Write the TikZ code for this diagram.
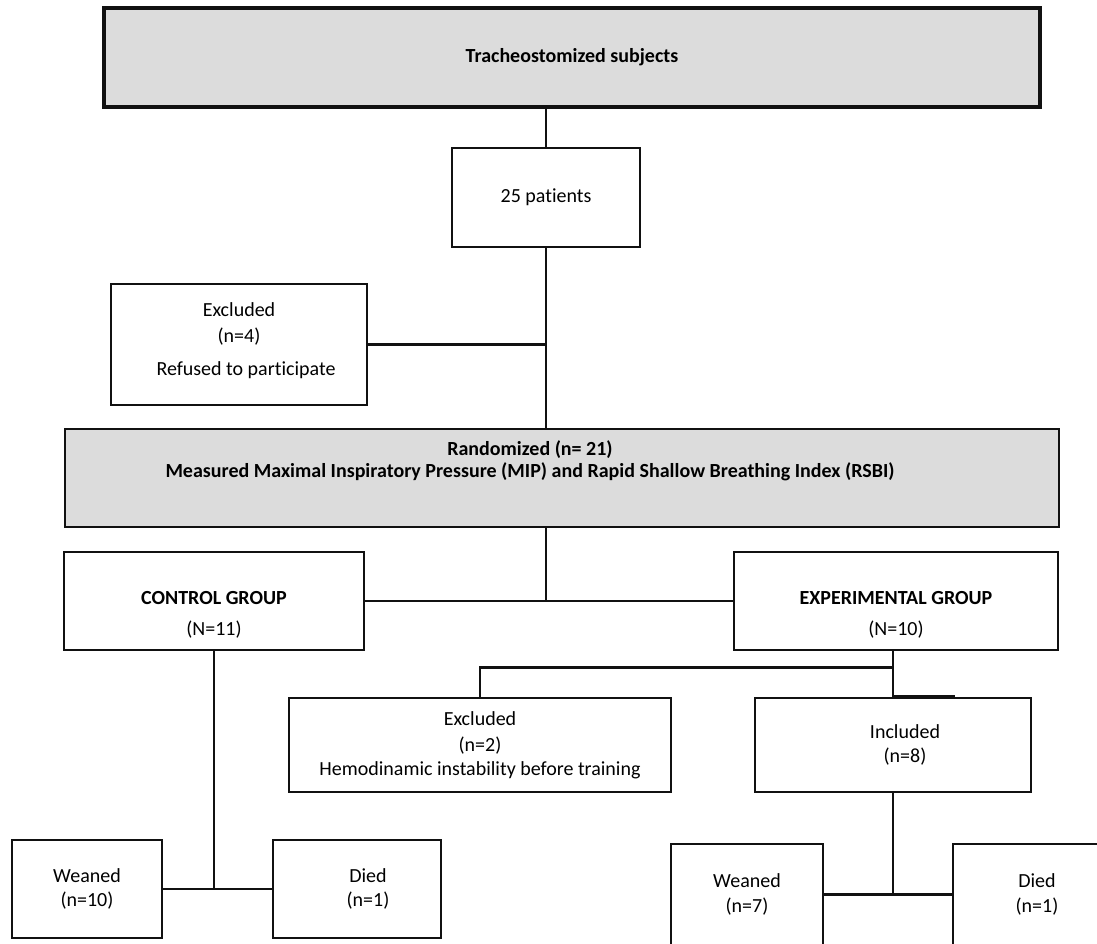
\documentclass[tikz,border=0pt]{standalone}
\usepackage{fontspec}
\setmainfont{Carlito}[Ligatures=NoCommon]
\usepackage{tikz}
\usetikzlibrary{
    positioning,
    calc
}
\definecolor{fcGray}{HTML}{DCDCDC}
\definecolor{fcEdge}{HTML}{111111}
\tikzset{
    fcBox/.style={
        draw=fcEdge,
        fill=white,
        line width=2.6pt,
        align=center,
        inner sep=0pt,
        font=\fontsize{20}{24}\selectfont
    },
    fcGrayBox/.style={fcBox,fill=fcGray},
    fcLine/.style={line width=2.6pt,draw=fcEdge}
}

\begin{document}
\begin{tikzpicture}[x=1pt,y=-1pt]
        \useasboundingbox (0,0) rectangle (1097,943);
        \clip (0,0) rectangle (1097,943);
        \fill[white] (0,0) rectangle (1097,943);

        % enrolment
        \node[fcGrayBox,line width=3.2pt,minimum width=936pt,minimum height=99pt] (subjects) at (572,57.5)
            {\textbf{Tracheostomized subjects}};
        \node[fcBox,minimum width=188pt,minimum height=99pt] (patients) at (546,197.5)
            {25 patients};
        \node[fcBox,minimum width=256pt,minimum height=121pt] (excl1) at (239,344.5)
            {Excluded\\[2pt](n=4)\\[9pt]\hspace*{14pt}Refused to participate\\[-14pt]};
        \node[fcGrayBox,line width=1.8pt,minimum width=994pt,minimum height=98pt] (randomized) at (562,478) {};
        \node[align=center,font=\fontsize{20}{24}\selectfont] (randtext) at (530,461)
            {\textbf{Randomized (n= 21)}\\[-2pt]\textbf{Measured Maximal Inspiratory Pressure (MIP) and Rapid Shallow Breathing Index (RSBI)}};

        % groups
        \node[fcBox,minimum width=300pt,minimum height=98pt] (control) at (214,601)
            {\rule{0pt}{40pt}\textbf{CONTROL GROUP}\\[7pt](N=11)};
        \node[fcBox,minimum width=324pt,minimum height=98pt] (experimental) at (896,601)
            {\rule{0pt}{40pt}\textbf{EXPERIMENTAL GROUP}\\[7pt](N=10)};
        \node[fcBox,minimum width=382pt,minimum height=94pt] (excl2) at (480,745)
            {Excluded\\[2pt](n=2)\\Hemodinamic instability before training};
        \node[fcBox,minimum width=276pt,minimum height=94pt] (included) at (893,745)
            {\hspace*{24pt}Included\\\hspace*{24pt}(n=8)};

        % outcomes
        \node[fcBox,minimum width=150pt,minimum height=98pt] (weanedC) at (87,889) {Weaned\\(n=10)};
        \node[fcBox,minimum width=168pt,minimum height=98pt] (diedC) at (357,889) {\hspace*{22pt}Died\\\hspace*{22pt}(n=1)};
        \node[fcBox,minimum width=152pt,minimum height=101pt] (weanedE) at (747,894.5) {Weaned\\[1pt](n=7)};
        \node[fcBox,minimum width=168pt,minimum height=101pt] (diedE) at (1037,894.5) {Died\\[1pt](n=1)};

        % lines
        \draw[fcLine] (patients.north) -- (patients.north |- subjects.south);
        \draw[fcLine] (patients.south) -- (patients.south |- randomized.north);
        \draw[fcLine] (excl1.east) -- (excl1.east -| patients.south);
        \draw[fcLine] (randomized.south -| patients.south) -- (control.east -| patients.south);
        \draw[fcLine] (control.east) -- (experimental.west);

        \draw[fcLine] (control.south) -- (control.south |- weanedC.east);
        \draw[fcLine] (weanedC.east) -- (diedC.west);

        \coordinate (split) at ($(experimental.south -| included.north)!0.35!(included.north)$);
        \draw[fcLine] (experimental.south -| included.north) -- (included.north);
        \draw[fcLine] (split) -| (excl2.north);
        \draw[line width=1.6pt,draw=fcEdge] ([yshift=1pt]included.north) -- ++(62,0);

        \draw[fcLine] (included.south) -- (included.south |- weanedE.east);
        \draw[fcLine] (weanedE.east) -- (diedE.west);
    \end{tikzpicture}
\end{document}
